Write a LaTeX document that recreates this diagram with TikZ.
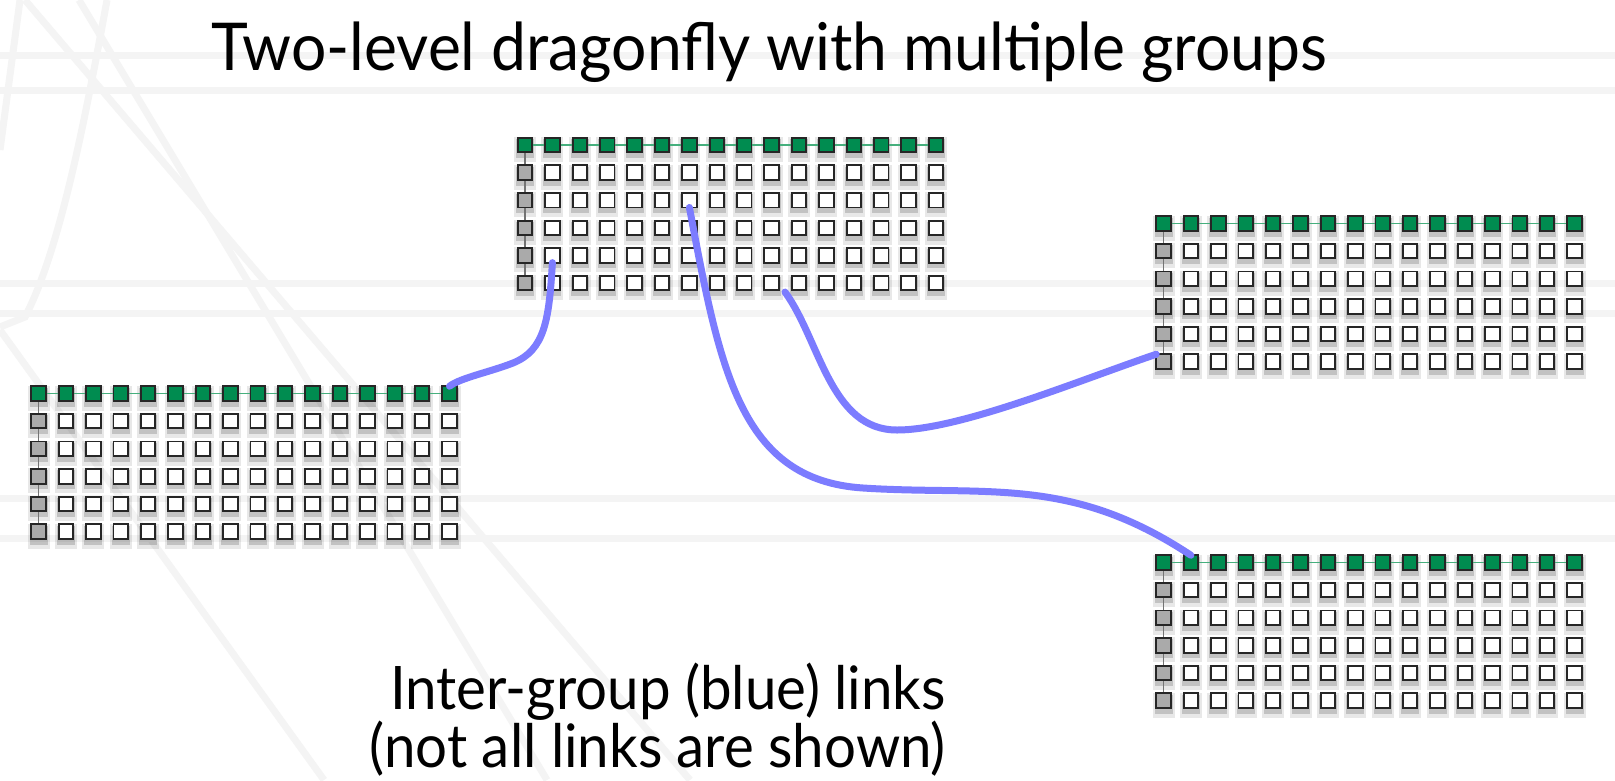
\documentclass[tikz,border=0pt]{standalone}
\usepackage{fontspec}
\setmainfont{Lato}
\definecolor{sqgreen}{RGB}{0,140,80}
\definecolor{sqgray}{RGB}{170,170,170}
\definecolor{lkblue}{RGB}{124,124,255}
\definecolor{bgline}{RGB}{244,244,244}
\definecolor{glink}{RGB}{70,175,125}
\pgfdeclarelayer{shadow}
\pgfdeclarelayer{lines}
\pgfsetlayers{shadow,lines,main}
\tikzset{
  sq/.style={draw=black!85, line width=1.9pt, minimum size=14.5pt, inner sep=0pt, outer sep=0pt},
  link/.style={draw=lkblue, line width=7pt, line cap=round},
  bgstroke/.style={draw=bgline, line width=7pt},
  rowlink/.style={draw=glink, line width=1.5pt},
  collink/.style={draw=black!55, line width=1.5pt},
  titletext/.style={font=\fontsize{66}{70}\selectfont, inner sep=0pt},
  subtext/.style={font=\fontsize{60}{58}\selectfont, inner sep=0pt},
}
\newcommand{\drawgroup}[3]{%
  \begin{pgfonlayer}{shadow}
  \foreach \r in {0,...,5}{\foreach \c in {0,...,15}{
    \fill[black,opacity=.09] ({#2+\c*27.4-11},{#3+\r*27.6-8}) rectangle +(22,25);
    \fill[black,opacity=.16] ({#2+\c*27.4-9},{#3+\r*27.6-6}) rectangle +(18,19);
  }}
  \end{pgfonlayer}
  \foreach \r in {0,...,5}{\foreach \c in {0,...,15}{
    \ifnum\r=0 \def\fc{sqgreen}\else\ifnum\c=0 \def\fc{sqgray}\else\def\fc{white}\fi\fi
    \node[sq, fill=\fc] (#1-\r-\c) at ({#2+\c*27.4},{#3+\r*27.6}) {};
  }}
  \begin{pgfonlayer}{lines}
  \draw[rowlink] (#1-0-0.center) -- (#1-0-15.center);
  \draw[collink] (#1-0-0.center) -- (#1-5-0.center);
  \end{pgfonlayer}
}
\begin{document}
\begin{tikzpicture}[x=1pt,y=-1pt]
\useasboundingbox (0,0) rectangle (1615,780);
\begin{pgfonlayer}{shadow}
\fill[white] (0,0) rectangle (1615,780);
\foreach \yy in {55,90,283,313,498,538}{\draw[bgstroke] (0,\yy) -- (1615,\yy);}
\draw[bgstroke] (107,0) .. controls (85,120) and (60,250) .. (25,317) -- (0,327);
\draw[bgstroke] (20,0) -- (0,150);
\draw[bgstroke] (25,0) -- (690,780);
\draw[bgstroke] (79,0) -- (547,780);
\draw[bgstroke] (0,330) -- (324,780);
\end{pgfonlayer}

\drawgroup{t}{525}{145}
\drawgroup{l}{38.5}{393.5}
\drawgroup{r}{1163.5}{223.5}
\drawgroup{b}{1163.5}{562.5}

\node[titletext, anchor=base west] (title) at (211,70) {\scalebox{0.945}[1]{Two-level dragonfly with multiple groups}};
\node[subtext, anchor=base east] (sub) at (946,767) {\scalebox{0.94}[1]{\vbox{\baselineskip=58pt\lineskiplimit=-1000pt\lineskip=0pt
  \halign{\hfil#\cr Inter-group (blue) links\cr (not all links are shown)\cr}}}};

\coordinate (c3) at (785,292);
\draw[link] (t-4-1.south) .. controls (549,320) and (545,350) .. (513,363)
  .. controls (490,372) and (460,378) .. (l-0-15.north);
\draw[link] (t-2-6.south) .. controls (720,370) and (740,480) .. (863,488)
  .. controls (986,496) and (1070,475) .. (b-0-1.north);
\draw[link] (c3) .. controls (820,340) and (830,430) .. (897,430)
  .. controls (960,430) and (1080,380) .. (r-5-0.north west);
\end{tikzpicture}
\end{document}
